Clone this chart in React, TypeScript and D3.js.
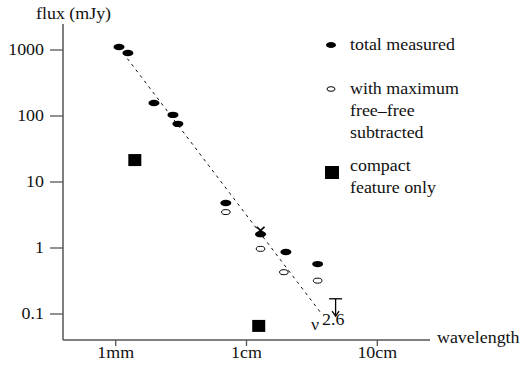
import React from 'react';
import * as d3 from 'd3';

// wavelength in mm, flux in mJy
const totalWave = [1.06, 1.24, 1.96, 2.74, 2.99, 6.95, 12.8, 20, 35];
const totalFlux = [1110, 900, 157, 104, 76, 4.8, 1.62, 0.87, 0.57];
const subWave = [6.95, 12.8, 19.3, 35];
const subFlux = [3.5, 0.97, 0.43, 0.32];
const compactWave = [1.4, 12.4];
const compactFlux = [21.5, 0.066];
const crossWave = [12.8];
const crossFlux = [1.85];
const limitWave = [48];
const limitFlux = [0.17, 0.093];
const fitWave = [1.14, 38];
const fitFlux = [900, 0.097];

const yTicks = [1000, 100, 10, 1, 0.1];
const yTickLabels = ['1000', '100', '10', '1', '0.1'];
const xTicks = [1, 10, 100];
const xTickLabels = ['1mm', '1cm', '10cm'];

const FONT = "'Liberation Serif', 'DejaVu Serif', serif";
const axisColor = '#555';

// the original's lettering is a little wider than it is tall
const Txt = ({ x, y, anchor = 'start', size = 16, children }: any) => (
  <text
    transform={`translate(${x},${y}) scale(1.12,1)`}
    textAnchor={anchor}
    style={{ fontFamily: FONT, fontSize: size }}
    fill="#111"
  >
    {children}
  </text>
);

export default function App() {
  const x = d3.scaleLog().domain([1, 100]).range([115.7, 377.3]);
  const y = d3.scaleLog().domain([0.1, 1000]).range([314, 50]);

  const x0 = 63, x1 = 430, yTop = 24, yBase = 340;

  const fitLine = d3.line<number>()
    .x((d, i) => x(fitWave[i]))
    .y((d) => y(d));

  return (
    <svg width={520} height={365} style={{ position: 'absolute', left: 0, top: 0 }}>
      <rect width={520} height={365} fill="#fff" />
      {/* axes */}
      <line x1={x0} x2={x0} y1={yTop} y2={yBase} stroke={axisColor} strokeWidth={1.5} />
      <line x1={x0} x2={x1} y1={yBase} y2={yBase} stroke={axisColor} strokeWidth={1.5} />
      {yTicks.map((t, i) => (
        <g key={t}>
          <line x1={50} x2={x0} y1={y(t)} y2={y(t)} stroke={axisColor} strokeWidth={1.3} />
          <Txt x={44} y={y(t) + 5} anchor="end">{yTickLabels[i]}</Txt>
        </g>
      ))}
      {xTicks.map((t, i) => (
        <g key={t}>
          <line x1={x(t)} x2={x(t)} y1={yBase} y2={yBase + 6} stroke={axisColor} strokeWidth={1.3} />
          <Txt x={x(t)} y={358} anchor="middle">{xTickLabels[i]}</Txt>
        </g>
      ))}
      <Txt x={36} y={19}>flux (mJy)</Txt>
      <Txt x={437} y={343}>wavelength</Txt>

      {/* fit line */}
      <path d={fitLine(fitFlux) || ''} fill="none" stroke="#111" strokeWidth={1} strokeDasharray="3,4" />

      {/* total measured */}
      {totalWave.map((w, i) => (
        <ellipse key={'t' + i} cx={x(w)} cy={y(totalFlux[i])} rx={5.5} ry={3.2} fill="#000" />
      ))}
      {/* free-free subtracted */}
      {subWave.map((w, i) => (
        <ellipse key={'s' + i} cx={x(w)} cy={y(subFlux[i])} rx={4.3} ry={2.5} fill="#fff" stroke="#000" strokeWidth={1} />
      ))}
      {/* compact feature */}
      {compactWave.map((w, i) => (
        <rect key={'c' + i} x={x(w) - 6.5} y={y(compactFlux[i]) - 6} width={13} height={12} fill="#000" />
      ))}
      {crossWave.map((w, i) => {
        const cx = x(w), cy = y(crossFlux[i]);
        return (
          <g key={'x' + i} stroke="#000" strokeWidth={1.6}>
            <line x1={cx - 4} x2={cx + 4} y1={cy - 3.5} y2={cy + 3.5} />
            <line x1={cx - 4} x2={cx + 4} y1={cy + 3.5} y2={cy - 3.5} />
          </g>
        );
      })}

      {/* upper limit */}
      {limitWave.map((w) => {
        const cx = x(w), top = y(limitFlux[0]), tip = y(limitFlux[1]);
        return (
          <g key="lim" stroke="#000" strokeWidth={1.3} fill="none">
            <line x1={cx - 6.5} x2={cx + 6.5} y1={top} y2={top} />
            <line x1={cx} x2={cx} y1={top} y2={tip} />
            <path d={`M${cx - 3.5},${tip - 5} L${cx},${tip} L${cx + 3.5},${tip - 5}`} />
          </g>
        );
      })}
      <Txt x={311} y={330}>ν</Txt>
      <Txt x={322} y={325}>2.6</Txt>

      {/* legend */}
      <ellipse cx={331} cy={45} rx={5} ry={3} fill="#000" />
      <Txt x={350} y={50}>total measured</Txt>
      <ellipse cx={331} cy={89} rx={4} ry={2.3} fill="#fff" stroke="#000" strokeWidth={1} />
      <Txt x={350} y={94}>with maximum</Txt>
      <Txt x={350} y={116}>free–free</Txt>
      <Txt x={350} y={138}>subtracted</Txt>
      <rect x={325} y={166} width={14} height={13} fill="#000" />
      <Txt x={350} y={171}>compact</Txt>
      <Txt x={350} y={193}>feature only</Txt>
    </svg>
  );
}
